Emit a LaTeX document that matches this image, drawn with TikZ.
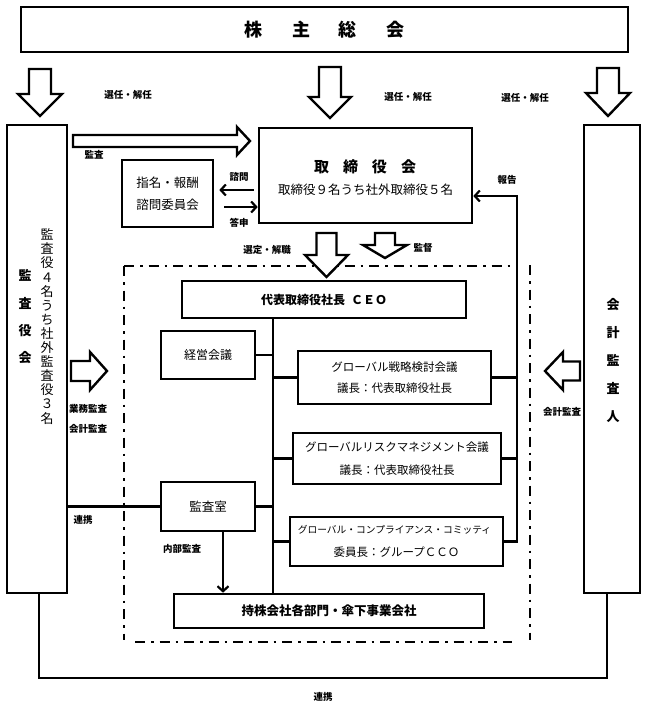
\documentclass[tikz,border=0pt]{standalone}
\usepackage{fontspec}
\setmainfont{Noto Sans CJK JP}
\usetikzlibrary{arrows.meta}
\def\HArrowDown#1#2#3#4#5#6{%
  \draw[harrow] (#1-#3,#2) -- (#1+#3,#2) -- (#1+#3,#5) -- (#1+#4,#5) -- (#1,#6) -- (#1-#4,#5) -- (#1-#3,#5) -- cycle;}
\def\HArrowSide#1#2#3#4#5#6{%
  \draw[harrow] (#2,#1-#3) -- (#5,#1-#3) -- (#5,#1-#4) -- (#6,#1) -- (#5,#1+#4) -- (#5,#1+#3) -- (#2,#1+#3) -- cycle;}
\begin{document}
\begin{tikzpicture}[x=1pt,y=-1pt,
  box/.style={draw, line width=2.6pt, rectangle, inner sep=0pt, align=center},
  conn/.style={line width=2.2pt},
  harrow/.style={draw, line width=2.4pt, fill=white, line join=miter},
  lbl/.style={font=\bfseries\fontsize{9.5}{10}\selectfont, inner sep=0pt},
  barbtip/.style={-{Straight Barb[length=5pt,width=11pt,line width=2.2pt]}},
  dashframe/.style={line width=2.5pt, dash pattern=on 10pt off 6pt on 2.5pt off 6pt},
]
\useasboundingbox (0,0) rectangle (648,706);

% dash-dot frame
\draw[dashframe] (124,266) -- (512,266);
\draw[dashframe] (530,265) -- (530,640);
\draw[dashframe] (124,266) -- (124,640);
\draw[dashframe] (135,642) -- (512,642);

% boxes
\node[box, minimum width=607, minimum height=45, font=\bfseries\fontsize{18}{20}\selectfont] (gm) at (324.5,29.5) {株\hspace{30pt}主\hspace{28pt}総\hspace{30pt}会};
\node[box, minimum width=60, minimum height=468] (kansa) at (37,359) {};
\node[font=\bfseries\fontsize{13}{27.3}\selectfont, align=center, inner sep=0pt] (kansaT) at (25,317) {監\\査\\役\\会};
\node[font=\fontsize{13}{14.1}\selectfont, align=center, inner sep=0pt] (kansaN) at (47,326.5) {監\\査\\役\\４\\名\\う\\ち\\社\\外\\監\\査\\役\\３\\名};
\node[box, minimum width=56, minimum height=468] (kaikei) at (612,359) {};
\node[font=\bfseries\fontsize{13}{28}\selectfont, align=center, inner sep=0pt] (kaikeiT) at (613,361) {会\\計\\監\\査\\人};

\node[box, minimum width=213, minimum height=95] (tori) at (365.5,175.5) {};
\node[font=\bfseries\fontsize{15}{16}\selectfont, inner sep=0pt] (toriT) at (365,167) {取\hspace{14pt}締\hspace{14pt}役\hspace{14pt}会};
\node[font=\fontsize{12.5}{14}\selectfont, inner sep=0pt] (toriS) at (365.5,190) {取締役９名うち社外取締役５名};

\node[box, minimum width=91, minimum height=67, font=\fontsize{12.5}{22}\selectfont] (shimei) at (167.5,193.5) {指名・報酬\\諮問委員会};
\node[box, minimum width=284, minimum height=37, font=\bfseries\fontsize{12}{14}\selectfont] (ceo) at (324,299.5) {代表取締役社長\hspace{6pt}ＣＥＯ};
\node[box, minimum width=94, minimum height=48, font=\fontsize{12}{14}\selectfont] (keiei) at (208,355) {経営会議};
\node[box, minimum width=193, minimum height=53, font=\fontsize{11.5}{21}\selectfont] (senryaku) at (394.5,377.5) {グローバル戦略検討会議\\議長：代表取締役社長};
\node[box, minimum width=208, minimum height=51, font=\fontsize{11.5}{23}\selectfont] (risk) at (397,458.5) {グローバルリスクマネジメント会議\\議長：代表取締役社長};
\node[box, minimum width=213, minimum height=49] (compl) at (396.5,541.5) {};
\node[font=\fontsize{9.75}{11}\selectfont, inner sep=0pt] (complA) at (394.5,530) {グローバル・コンプライアンス・コミッティ};
\node[font=\fontsize{11.5}{13}\selectfont, inner sep=0pt] (complB) at (396.5,552) {委員長：グループＣＣＯ};
\node[box, minimum width=94, minimum height=49, font=\fontsize{12.5}{14}\selectfont] (ks) at (208,506.5) {監査室};
\node[box, minimum width=310, minimum height=34, font=\bfseries\fontsize{12.5}{14}\selectfont] (mk) at (329,611) {持株会社各部門・傘下事業会社};

% connectors
\coordinate (trunk) at (273,0);
\coordinate (rep) at (517,196);
\coordinate (ia) at (223,0);
\coordinate (bl) at (39,678);
\coordinate (br) at (607,678);
\draw[conn] (ceo.south -| trunk) -- (mk.north -| trunk);
\draw[conn] (keiei.east) -- (keiei.east -| trunk);
\draw[conn] (senryaku.west) -- (senryaku.west -| trunk);
\draw[conn] (risk.west) -- (risk.west -| trunk);
\draw[conn] (ks.east) -- (ks.east -| trunk);
\draw[conn] (compl.west) -- (compl.west -| trunk);
\draw[conn, barbtip] (compl.east) -| (rep) -- (tori.east |- rep);
\draw[conn] (senryaku.east) -- (senryaku.east -| rep);
\draw[conn] (risk.east) -- (risk.east -| rep);
\path ([yshift=3.5pt]shimei.east) coordinate (q1) ([yshift=-13.5pt]shimei.east) coordinate (q2);
\draw[conn, barbtip] ([xshift=-4pt]tori.west |- q1) -- ([xshift=5pt]q1);
\draw[conn, barbtip] ([xshift=10pt]q2) -- (tori.west |- q2);
\draw[conn, barbtip] (ks.south -| ia) -- (mk.north -| ia);
\draw[conn] (ks.west -| kansa.east) -- (ks.west);
\draw[conn] (kansa.south -| bl) -- (bl) -- (br) -- (kaikei.south -| br);

% hollow block arrows
\HArrowDown{40}{69}{11}{22}{94}{116}
\HArrowDown{330}{67}{11}{21}{97}{118}
\HArrowDown{608}{68}{11}{22}{93}{116}
\HArrowDown{326.5}{233}{10}{21.5}{255}{277}
\HArrowDown{385}{233}{10}{22}{245}{258}
\HArrowSide{141}{73}{6}{14}{237}{250}
\HArrowSide{371}{71}{10}{19}{90}{107}
\HArrowSide{371}{580}{9.5}{19}{563}{545}

% labels
\node[lbl] (l1) at (128,95) {選任・解任};
\node[lbl] (l2) at (408,97) {選任・解任};
\node[lbl] (l3) at (525,98) {選任・解任};
\node[lbl] (l4) at (94,155) {監査};
\node[lbl] (l5) at (239,177) {諮問};
\node[lbl] (l6) at (239,223) {答申};
\node[lbl] (l7) at (267,250) {選定・解職};
\node[lbl] (l8) at (423,248) {監督};
\node[lbl] (l9) at (507,180) {報告};
\node[lbl] (l10) at (88,409) {業務監査};
\node[lbl] (l11) at (88,429) {会計監査};
\node[lbl] (l12) at (562,412) {会計監査};
\node[lbl] (l13) at (83,520) {連携};
\node[lbl] (l14) at (182,549) {内部監査};
\node[lbl] (l15) at (323,697) {連携};
\end{tikzpicture}
\end{document}
